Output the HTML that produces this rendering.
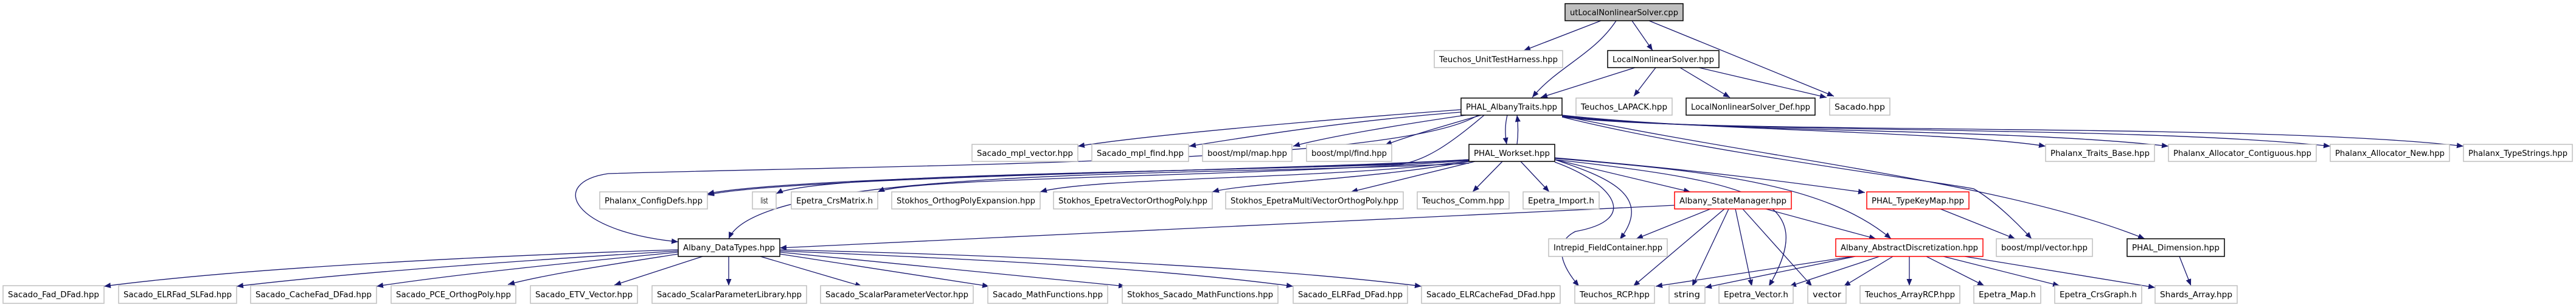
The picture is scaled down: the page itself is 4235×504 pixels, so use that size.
<!DOCTYPE html>
<html><head><meta charset="utf-8"><style>
html,body{margin:0;padding:0;background:#fff;}
svg{display:block;}
text{font-family:"DejaVu Sans","Liberation Sans",sans-serif;font-size:13px;fill:#000;}
.g{fill:#fff;stroke:#bfbfbf;stroke-width:1.5}
.b{fill:#fff;stroke:#000;stroke-width:1.5}
.r{fill:#fff;stroke:#ff0000;stroke-width:1.5}
.e{fill:none;stroke:#191970;stroke-width:1.3;marker-end:url(#a)}
</style></head><body>
<svg width="4235" height="504" viewBox="0 0 4235 504" xmlns="http://www.w3.org/2000/svg">
<defs><marker id="a" markerUnits="userSpaceOnUse" markerWidth="12" markerHeight="10" refX="11" refY="4.5" orient="auto"><path d="M0,0 L11,4.5 L0,9 z" fill="#191970"/></marker></defs>

<!-- edges -->
<path class="e" d="M2632,34 L2505,83"/>
<path class="e" d="M2657,34 C2620,90 2560,110 2519,160"/>
<path class="e" d="M2683,34 L2717,83"/>
<path class="e" d="M2711,34 L3015,158"/>
<path class="e" d="M2688,111 L2533,160"/>
<path class="e" d="M2722,111 L2686,158"/>
<path class="e" d="M2762,111 L2844,160"/>
<path class="e" d="M2793,111 L3003,160"/>

<path class="e" d="M2402,180 C2200,195 1900,220 1772,240"/>
<path class="e" d="M2402,184 C2200,200 2050,225 1955,240"/>
<path class="e" d="M2410,189 C2300,205 2180,225 2126,240"/>
<path class="e" d="M2435,189 C2380,205 2320,222 2277,238"/>
<path class="e" d="M2478,189 C2474,205 2474,220 2477,237"/>
<path class="e" d="M2494,237 C2496,222 2496,205 2494,189"/>
<path class="e" d="M2568,189 C2800,215 3200,215 3363,240"/>
<path class="e" d="M2568,190 C2800,218 3300,210 3565,240"/>
<path class="e" d="M2568,191 C2800,220 3500,205 3831,240"/>
<path class="e" d="M2568,192 C2800,222 3700,200 4050,240"/>
<path class="e" d="M2568,192 C2800,250 3200,300 3245,310 C3280,330 3320,370 3340,392"/>
<path class="e" d="M2568,190 C2900,260 3300,300 3526,392"/>
<path class="e" d="M2440,189 C2380,240 2340,265 2300,270 C2000,280 1300,290 1163,318"/>
<path class="e" d="M2430,189 C2300,270 1500,270 1000,285 C900,300 940,380 1115,397"/>

<path class="e" d="M2415,262 C2100,280 1300,290 1163,320"/>
<path class="e" d="M2415,262 C2100,285 1350,280 1276,318"/>
<path class="e" d="M2415,263 C2100,290 1500,290 1443,315"/>
<path class="e" d="M2415,264 C2200,295 1800,290 1710,315"/>
<path class="e" d="M2415,265 C2250,295 2050,300 1993,315"/>
<path class="e" d="M2425,265 L2221,315"/>
<path class="e" d="M2470,265 L2421,315"/>
<path class="e" d="M2500,265 L2547,315"/>
<path class="e" d="M2556,262 L2779,315"/>
<path class="e" d="M2556,259 C2800,280 2950,300 3066,316"/>
<path class="e" d="M2556,262 C2640,290 2720,320 2663,393"/>
<path class="e" d="M2556,266 C2650,300 2700,360 2590,380 C2550,400 2570,440 2596,470"/>
<path class="e" d="M2556,262 C2900,300 2990,330 2908,470"/>
<path class="e" d="M2556,260 C2800,280 3000,300 3109,392"/>
<path class="e" d="M2415,268 C2000,290 1250,270 1198,392"/>

<path class="e" d="M2753,337 L1282,407"/>
<path class="e" d="M2812,343 L2690,392"/>
<path class="e" d="M2835,343 L2685,470"/>
<path class="e" d="M2842,343 L2782,470"/>
<path class="e" d="M2853,343 L2880,470"/>
<path class="e" d="M2865,343 L2979,470"/>
<path class="e" d="M2903,343 L3084,392"/>
<path class="e" d="M3190,343 L3313,392"/>
<path class="e" d="M3583,421 L3602,469"/>

<path class="e" d="M3046,421 L2722,470"/>
<path class="e" d="M3050,421 L2803,472"/>
<path class="e" d="M3090,421 L2942,470"/>
<path class="e" d="M3112,421 L3031,470"/>
<path class="e" d="M3139,421 L3139,469"/>
<path class="e" d="M3167,421 L3262,469"/>
<path class="e" d="M3195,421 L3386,469"/>
<path class="e" d="M3230,421 L3543,472"/>

<path class="e" d="M1115,410 C800,420 400,440 171,470"/>
<path class="e" d="M1115,412 C900,425 600,445 389,470"/>
<path class="e" d="M1115,414 C950,430 750,450 619,470"/>
<path class="e" d="M1115,417 C1000,435 900,450 835,467"/>
<path class="e" d="M1155,421 L1010,468"/>
<path class="e" d="M1198,421 L1198,469"/>
<path class="e" d="M1250,421 L1417,470"/>
<path class="e" d="M1282,417 L1626,470"/>
<path class="e" d="M1282,414 L1850,470"/>
<path class="e" d="M1282,412 C1600,425 1900,440 2126,470"/>
<path class="e" d="M1282,410 C1700,420 2100,440 2337,470"/>

<!-- nodes -->
<rect class="b" x="2573" y="6" width="194" height="28" style="fill:#bfbfbf"/><text x="2670" y="25" text-anchor="middle" textLength="178" lengthAdjust="spacingAndGlyphs">utLocalNonlinearSolver.cpp</text>
<rect class="g" x="2358" y="83" width="211" height="28"/><text x="2463.5" y="102" text-anchor="middle" textLength="195" lengthAdjust="spacingAndGlyphs">Teuchos_UnitTestHarness.hpp</text>
<rect class="b" x="2643" y="83" width="183" height="28"/><text x="2734.5" y="102" text-anchor="middle" textLength="167" lengthAdjust="spacingAndGlyphs">LocalNonlinearSolver.hpp</text>
<rect class="b" x="2402" y="161" width="166" height="28"/><text x="2485" y="180" text-anchor="middle" textLength="150" lengthAdjust="spacingAndGlyphs">PHAL_AlbanyTraits.hpp</text>
<rect class="g" x="2591" y="161" width="158" height="28"/><text x="2670" y="180" text-anchor="middle" textLength="142" lengthAdjust="spacingAndGlyphs">Teuchos_LAPACK.hpp</text>
<rect class="b" x="2772" y="161" width="212" height="28"/><text x="2878" y="180" text-anchor="middle" textLength="196" lengthAdjust="spacingAndGlyphs">LocalNonlinearSolver_Def.hpp</text>
<rect class="g" x="3008" y="161" width="99" height="28"/><text x="3057.5" y="180" text-anchor="middle" textLength="83" lengthAdjust="spacingAndGlyphs">Sacado.hpp</text>

<rect class="g" x="1598" y="237" width="174" height="28"/><text x="1685" y="256" text-anchor="middle" textLength="158" lengthAdjust="spacingAndGlyphs">Sacado_mpl_vector.hpp</text>
<rect class="g" x="1795" y="237" width="159" height="28"/><text x="1874.5" y="256" text-anchor="middle" textLength="143" lengthAdjust="spacingAndGlyphs">Sacado_mpl_find.hpp</text>
<rect class="g" x="1977" y="237" width="147" height="28"/><text x="2050.5" y="256" text-anchor="middle" textLength="131" lengthAdjust="spacingAndGlyphs">boost/mpl/map.hpp</text>
<rect class="g" x="2148" y="237" width="140" height="28"/><text x="2218" y="256" text-anchor="middle" textLength="124" lengthAdjust="spacingAndGlyphs">boost/mpl/find.hpp</text>
<rect class="b" x="2415" y="237" width="141" height="28"/><text x="2485.5" y="256" text-anchor="middle" textLength="125" lengthAdjust="spacingAndGlyphs">PHAL_Workset.hpp</text>
<rect class="g" x="3363" y="237" width="179" height="28"/><text x="3452.5" y="256" text-anchor="middle" textLength="163" lengthAdjust="spacingAndGlyphs">Phalanx_Traits_Base.hpp</text>
<rect class="g" x="3565" y="237" width="243" height="28"/><text x="3686.5" y="256" text-anchor="middle" textLength="227" lengthAdjust="spacingAndGlyphs">Phalanx_Allocator_Contiguous.hpp</text>
<rect class="g" x="3831" y="237" width="196" height="28"/><text x="3929" y="256" text-anchor="middle" textLength="180" lengthAdjust="spacingAndGlyphs">Phalanx_Allocator_New.hpp</text>
<rect class="g" x="4050" y="237" width="179" height="28"/><text x="4139.5" y="256" text-anchor="middle" textLength="163" lengthAdjust="spacingAndGlyphs">Phalanx_TypeStrings.hpp</text>

<rect class="g" x="986" y="315" width="177" height="28"/><text x="1074.5" y="334" text-anchor="middle" textLength="161" lengthAdjust="spacingAndGlyphs">Phalanx_ConfigDefs.hpp</text>
<rect class="g" x="1237" y="315" width="39" height="28"/><text x="1256.5" y="334" text-anchor="middle" textLength="12" lengthAdjust="spacingAndGlyphs">list</text>
<rect class="g" x="1301" y="315" width="142" height="28"/><text x="1372" y="334" text-anchor="middle" textLength="126" lengthAdjust="spacingAndGlyphs">Epetra_CrsMatrix.h</text>
<rect class="g" x="1466" y="315" width="244" height="28"/><text x="1588" y="334" text-anchor="middle" textLength="228" lengthAdjust="spacingAndGlyphs">Stokhos_OrthogPolyExpansion.hpp</text>
<rect class="g" x="1732" y="315" width="261" height="28"/><text x="1862.5" y="334" text-anchor="middle" textLength="245" lengthAdjust="spacingAndGlyphs">Stokhos_EpetraVectorOrthogPoly.hpp</text>
<rect class="g" x="2015" y="315" width="292" height="28"/><text x="2161" y="334" text-anchor="middle" textLength="276" lengthAdjust="spacingAndGlyphs">Stokhos_EpetraMultiVectorOrthogPoly.hpp</text>
<rect class="g" x="2330" y="315" width="151" height="28"/><text x="2405.5" y="334" text-anchor="middle" textLength="135" lengthAdjust="spacingAndGlyphs">Teuchos_Comm.hpp</text>
<rect class="g" x="2504" y="315" width="125" height="28"/><text x="2566.5" y="334" text-anchor="middle" textLength="109" lengthAdjust="spacingAndGlyphs">Epetra_Import.h</text>
<rect class="r" x="2753" y="315" width="192" height="28"/><text x="2849" y="334" text-anchor="middle" textLength="176" lengthAdjust="spacingAndGlyphs">Albany_StateManager.hpp</text>
<rect class="r" x="3069" y="315" width="168" height="28"/><text x="3153" y="334" text-anchor="middle" textLength="152" lengthAdjust="spacingAndGlyphs">PHAL_TypeKeyMap.hpp</text>

<rect class="b" x="1115" y="392" width="167" height="29"/><text x="1198.5" y="411" text-anchor="middle" textLength="151" lengthAdjust="spacingAndGlyphs">Albany_DataTypes.hpp</text>
<rect class="g" x="2546" y="392" width="195" height="29"/><text x="2643.5" y="411" text-anchor="middle" textLength="179" lengthAdjust="spacingAndGlyphs">Intrepid_FieldContainer.hpp</text>
<rect class="r" x="3018" y="392" width="242" height="29"/><text x="3139" y="411" text-anchor="middle" textLength="226" lengthAdjust="spacingAndGlyphs">Albany_AbstractDiscretization.hpp</text>
<rect class="g" x="3282" y="392" width="158" height="29"/><text x="3361" y="411" text-anchor="middle" textLength="142" lengthAdjust="spacingAndGlyphs">boost/mpl/vector.hpp</text>
<rect class="b" x="3497" y="392" width="160" height="29"/><text x="3577" y="411" text-anchor="middle" textLength="144" lengthAdjust="spacingAndGlyphs">PHAL_Dimension.hpp</text>

<rect class="g" x="5" y="469" width="166" height="29"/><text x="88" y="488" text-anchor="middle" textLength="150" lengthAdjust="spacingAndGlyphs">Sacado_Fad_DFad.hpp</text>
<rect class="g" x="195" y="469" width="194" height="29"/><text x="292" y="488" text-anchor="middle" textLength="178" lengthAdjust="spacingAndGlyphs">Sacado_ELRFad_SLFad.hpp</text>
<rect class="g" x="412" y="469" width="207" height="29"/><text x="515.5" y="488" text-anchor="middle" textLength="191" lengthAdjust="spacingAndGlyphs">Sacado_CacheFad_DFad.hpp</text>
<rect class="g" x="643" y="469" width="205" height="29"/><text x="745.5" y="488" text-anchor="middle" textLength="189" lengthAdjust="spacingAndGlyphs">Sacado_PCE_OrthogPoly.hpp</text>
<rect class="g" x="872" y="469" width="176" height="29"/><text x="960" y="488" text-anchor="middle" textLength="160" lengthAdjust="spacingAndGlyphs">Sacado_ETV_Vector.hpp</text>
<rect class="g" x="1072" y="469" width="254" height="29"/><text x="1199" y="488" text-anchor="middle" textLength="238" lengthAdjust="spacingAndGlyphs">Sacado_ScalarParameterLibrary.hpp</text>
<rect class="g" x="1349" y="469" width="251" height="29"/><text x="1474.5" y="488" text-anchor="middle" textLength="235" lengthAdjust="spacingAndGlyphs">Sacado_ScalarParameterVector.hpp</text>
<rect class="g" x="1624" y="469" width="197" height="29"/><text x="1722.5" y="488" text-anchor="middle" textLength="181" lengthAdjust="spacingAndGlyphs">Sacado_MathFunctions.hpp</text>
<rect class="g" x="1845" y="469" width="256" height="29"/><text x="1973" y="488" text-anchor="middle" textLength="240" lengthAdjust="spacingAndGlyphs">Stokhos_Sacado_MathFunctions.hpp</text>
<rect class="g" x="2126" y="469" width="188" height="29"/><text x="2220" y="488" text-anchor="middle" textLength="172" lengthAdjust="spacingAndGlyphs">Sacado_ELRFad_DFad.hpp</text>
<rect class="g" x="2337" y="469" width="228" height="29"/><text x="2451" y="488" text-anchor="middle" textLength="212" lengthAdjust="spacingAndGlyphs">Sacado_ELRCacheFad_DFad.hpp</text>
<rect class="g" x="2589" y="469" width="131" height="29"/><text x="2654.5" y="488" text-anchor="middle" textLength="115" lengthAdjust="spacingAndGlyphs">Teuchos_RCP.hpp</text>
<rect class="g" x="2744" y="469" width="59" height="29"/><text x="2773.5" y="488" text-anchor="middle" textLength="43" lengthAdjust="spacingAndGlyphs">string</text>
<rect class="g" x="2826" y="469" width="122" height="29"/><text x="2887" y="488" text-anchor="middle" textLength="106" lengthAdjust="spacingAndGlyphs">Epetra_Vector.h</text>
<rect class="g" x="2972" y="469" width="63" height="29"/><text x="3003.5" y="488" text-anchor="middle" textLength="47" lengthAdjust="spacingAndGlyphs">vector</text>
<rect class="g" x="3058" y="469" width="164" height="29"/><text x="3140" y="488" text-anchor="middle" textLength="148" lengthAdjust="spacingAndGlyphs">Teuchos_ArrayRCP.hpp</text>
<rect class="g" x="3245" y="469" width="110" height="29"/><text x="3300" y="488" text-anchor="middle" textLength="94" lengthAdjust="spacingAndGlyphs">Epetra_Map.h</text>
<rect class="g" x="3378" y="469" width="143" height="29"/><text x="3449.5" y="488" text-anchor="middle" textLength="127" lengthAdjust="spacingAndGlyphs">Epetra_CrsGraph.h</text>
<rect class="g" x="3543" y="469" width="135" height="29"/><text x="3610.5" y="488" text-anchor="middle" textLength="119" lengthAdjust="spacingAndGlyphs">Shards_Array.hpp</text>
</svg>
</body></html>
